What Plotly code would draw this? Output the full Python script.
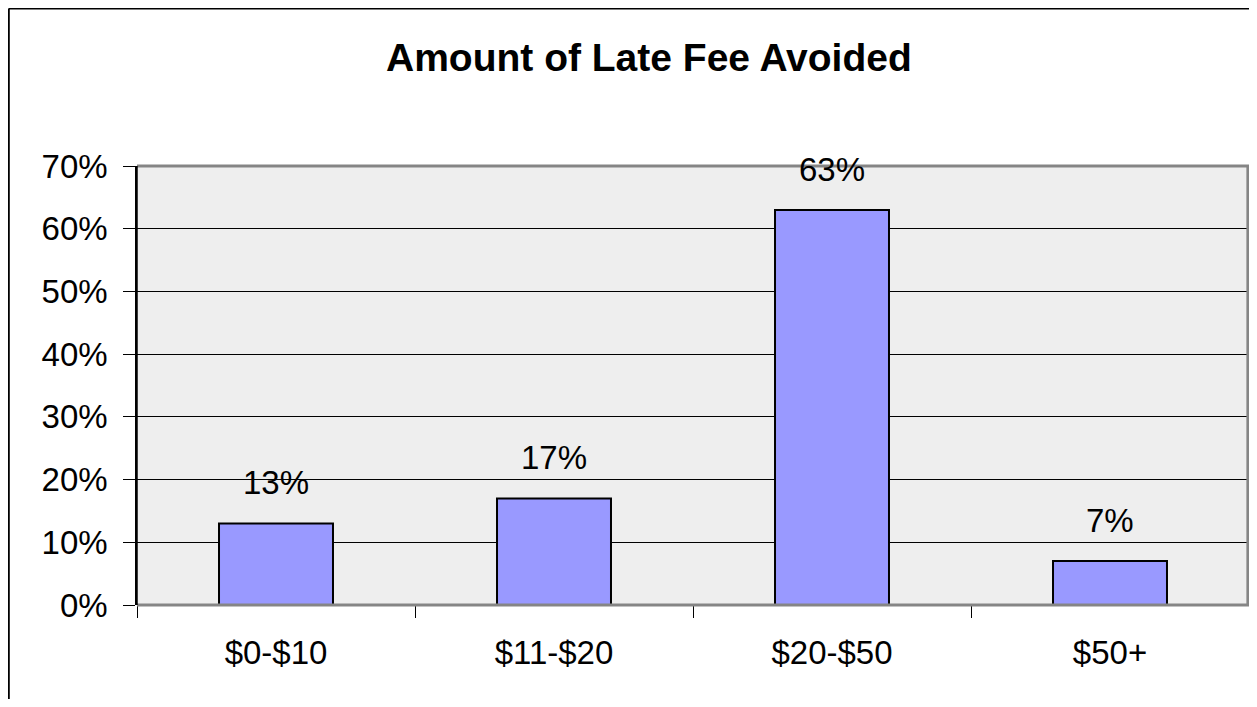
import plotly.graph_objects as go

categories = ["$0-$10", "$11-$20", "$20-$50", "$50+"]
values = [13, 17, 63, 7]
value_labels = ["13%", "17%", "63%", "7%"]
y_ticks = [0, 10, 20, 30, 40, 50, 60, 70]
y_tick_labels = ["0%", "10%", "20%", "30%", "40%", "50%", "60%", "70%"]

FONT = "Liberation Sans, Arial, sans-serif"

fig = go.Figure()
fig.add_trace(go.Bar(
    x=categories, y=values,
    marker=dict(color="#9999FF", line=dict(color="black", width=2)),
    width=0.41,
    hoverinfo="skip",
))

for c, v, t in zip(categories, values, value_labels):
    fig.add_annotation(x=c, y=v, text=t, showarrow=False, xref="x", yref="y",
                       yanchor="bottom", yshift=20,
                       font=dict(family=FONT, size=33, color="black"))

# plot-area border (gray: top, right, bottom)
gray = dict(color="#858585", width=3)
fig.add_shape(type="line", xref="paper", yref="paper", x0=0, x1=1, y0=1, y1=1, line=gray, layer="above")
fig.add_shape(type="line", xref="paper", yref="paper", x0=0.999, x1=0.999, y0=0, y1=1, line=gray, layer="above")
fig.add_shape(type="line", xref="paper", yref="paper", x0=0, x1=1, y0=0, y1=0, line=gray, layer="above")
fig.add_shape(type="line", xref="paper", yref="paper", x0=0, x1=0, y0=0, y1=1,
              line=dict(color="black", width=1.5), layer="above")
# outer chart border (black, left & top)
fig.add_shape(type="line", xref="paper", yref="paper", x0=-0.1153, x1=-0.1153, y0=-0.3, y1=1.3588,
              line=dict(color="black", width=2))
fig.add_shape(type="line", xref="paper", yref="paper", x0=-0.1153, x1=1.1, y0=1.3588, y1=1.3588,
              line=dict(color="black", width=2))

fig.add_annotation(text="<b>Amount of Late Fee Avoided</b>", xref="paper", yref="paper",
                   x=0.46, y=1.248, xanchor="center", yanchor="middle", showarrow=False,
                   font=dict(family=FONT, size=39, color="black"))

fig.update_layout(
    width=1241, height=691,
    margin=dict(l=129, r=0, t=158, b=94, autoexpand=False),
    paper_bgcolor="white", plot_bgcolor="#EEEEEE",
    showlegend=False,
    font=dict(family=FONT, size=33, color="black"),
)
fig.update_xaxes(
    type="category", showgrid=False, ticks="outside", tickson="boundaries",
    ticklen=12, tickcolor="black", tickwidth=1,
    showline=False, tickfont=dict(family=FONT, size=33, color="black"),
    range=[-0.5, 3.5], ticklabelstandoff=25,
)
fig.update_yaxes(
    range=[0, 70], tickvals=y_ticks, ticktext=y_tick_labels,
    showgrid=True, gridcolor="black", gridwidth=1,
    showline=True, linecolor="black", linewidth=1.5,
    ticks="outside", ticklen=12, tickcolor="black", tickwidth=1,
    zeroline=False, tickfont=dict(family=FONT, size=33, color="black"),
    ticklabelstandoff=9,
)

fig.write_html("out.html")
